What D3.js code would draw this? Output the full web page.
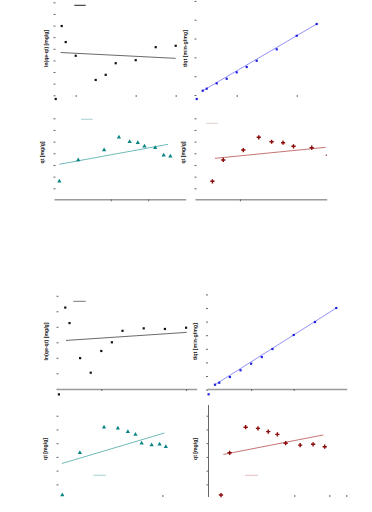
<!DOCTYPE html>
<meta charset="utf-8">
<html>
<head>
<style>
body { margin: 0; background: #fff; }
svg { display: block; }
.lbl { font-family: "Liberation Sans", Arial, sans-serif; font-size: 5.5px; font-weight: bold; fill: #111; }
.tk line { stroke: #666; }
.tk path { display: none; }
.xline path { display: inline; stroke: #9a9a9a; stroke-width: 1.5px; }
</style>
</head>
<body>
<svg width="372" height="512"></svg>
<script src="https://d3js.org/d3.v7.min.js"></script>
<script>

// ---- data ----
// upper group
var tA1 = [6, 10, 20, 40, 50, 60, 80, 100, 120];
var lnA1 = [0.98, 0.29, -0.30, -1.34, -1.12, -0.62, -0.49, 0.07, 0.13];
var tAll = [6, 10, 20, 30, 40, 50, 60, 80, 100, 120];
var tq1 = [0.57, 0.84, 1.55, 2.16, 3.01, 3.72, 4.55, 6.07, 7.87, 9.43];
var lnT = [1.79, 2.30, 3.00, 3.40, 3.69, 3.91, 4.09, 4.38, 4.61, 4.79];
var sqT = [2.45, 3.16, 4.47, 5.48, 6.32, 7.07, 7.75, 8.94, 10.0, 10.95];
var qt1 = [10.60, 12.43, 13.28, 14.37, 13.99, 13.91, 13.60, 13.48, 12.83, 12.74];

// lower group
var lnA2 = [1.12, 0.62, -0.51, -0.98, -0.28, 0.00, 0.37, 0.45, 0.43, 0.47];
var tq2 = [0.72, 1.01, 1.85, 2.84, 3.81, 4.79, 5.97, 8.03, 9.94, 12.0];
var qt2 = [8.11, 9.65, 10.58, 10.54, 10.42, 10.32, 10.00, 9.93, 9.96, 9.87];

// points at t = 0
var zeroA1 = [0, -2.16], zeroB1 = [0, -0.53], zeroA2 = [0, -1.68], zeroB2 = [0, -0.69];

// fitted lines (two end points each)
var fitA1 = [[5, -0.16], [120, -0.41]];
var fitB1 = [[6, 0.57], [120, 9.43]];
var fitC1 = [[1.79, 12.06], [4.73, 13.77]];
var fitD1 = [[2.62, 12.57], [9.85, 13.51]];
var fitA2 = [[6.7, 0.06], [120.6, 0.32]];
var fitB2 = [[6, 0.72], [120, 12.0]];
var fitC2 = [[1.78, 9.26], [4.75, 10.37]];
var fitD2 = [[2.64, 9.59], [10.84, 10.30]];

// axis labels
var labA = "ln(qe-qt) [mg/g]", labB = "t/qt [min·g/mg]", labC = "qt [mg/g]";

var svg = d3.select("svg");
var defs = svg.append("defs");
var nClip = 0;

function zip(a, b) { return a.map(function (v, i) { return [v, b[i]]; }); }

function panel(o) {
  var x = d3.scaleLinear().domain(o.xd).range(o.xr);
  var y = d3.scaleLinear().domain(o.yd).range(o.yr);
  var id = "clip" + (nClip++);
  defs.append("clipPath").attr("id", id).append("rect")
      .attr("x", o.xr[0] - 3).attr("y", o.yr[1] - 2)
      .attr("width", o.xr[1] - o.xr[0] + 3).attr("height", o.yr[0] - o.yr[1] + 12);

  // y ticks
  var ya = svg.append("g").attr("class", "tk")
      .attr("transform", "translate(" + o.yAxisX + ",0)")
      .call(d3.axisLeft(y).tickValues(o.yt).tickSize(2).tickFormat(""));
  if (o.yLine) ya.append("line").attr("x1", 0).attr("x2", 0)
      .attr("y1", o.yr[1]).attr("y2", o.yr[0]).attr("stroke", "#e4e4e4");

  // x axis
  svg.append("g").attr("class", "tk" + (o.xLine ? " xline" : ""))
      .attr("transform", "translate(0," + o.xAxisY + ")")
      .call(d3.axisBottom(x).tickValues(o.xt).tickSize(2).tickSizeOuter(0).tickFormat(""));

  var g = svg.append("g").attr("clip-path", "url(#" + id + ")");

  g.append("path").datum(o.fit)
      .attr("fill", "none").attr("stroke", o.lineCol).attr("stroke-width", 0.8)
      .attr("d", d3.line().x(function (d) { return x(d[0]); }).y(function (d) { return y(d[1]); }));

  var pts = o.pts.slice();
  if (o.zero) pts.push(o.zero);
  if (o.mark === "rect") {
    g.selectAll(".p").data(pts).enter().append("rect")
        .attr("x", function (d) { return x(d[0]) - 1.1; })
        .attr("y", function (d) { return y(d[1]) - 1.1; })
        .attr("width", 2.2).attr("height", 2.2).attr("fill", o.col);
  } else {
    var sym = d3.symbol().type(o.mark === "tri" ? d3.symbolTriangle : d3.symbolCross).size(o.mark === "tri" ? 8 : 10);
    g.selectAll(".p").data(pts).enter().append("path")
        .attr("transform", function (d) { return "translate(" + x(d[0]) + "," + y(d[1]) + ")"; })
        .attr("d", sym).attr("fill", o.col);
  }

  // legend sample (text not legible)
  if (o.leg) svg.append("line")
      .attr("x1", o.leg[0]).attr("x2", o.leg[1]).attr("y1", o.leg[2]).attr("y2", o.leg[2])
      .attr("stroke", o.legCol).attr("stroke-width", 1);

  svg.append("text").attr("class", "lbl")
      .attr("transform", "translate(" + o.lab[0] + "," + o.lab[1] + ") rotate(-90)")
      .attr("text-anchor", "middle").attr("dominant-baseline", "central")
      .attr("textLength", o.lab[2]).attr("lengthAdjust", "spacingAndGlyphs")
      .text(o.text);
}

// upper group
panel({ xd: [0, 130], xr: [55.7, 185.7], yd: [-2.16, 2.1], yr: [99, 0],
  yAxisX: 55.5, yt: d3.range(-2, 2.01, 0.5), xAxisY: 95, xt: [20, 80, 120],
  pts: zip(tA1, lnA1), zero: zeroA1, fit: fitA1, mark: "rect", col: "#111", lineCol: "#444",
  leg: [74.3, 85.7, 5.3], legCol: "#222", lab: [45.5, 48.5, 37], text: labA });

panel({ xd: [0, 130], xr: [196.7, 326.7], yd: [-0.53, 12.62], yr: [99, 0],
  yAxisX: 196.5, yt: [0, 2.5, 5, 7.5, 10, 12.5], xAxisY: 95, xt: [40, 100],
  pts: zip(tAll, tq1), zero: zeroB1, fit: fitB1, mark: "rect", col: "#1f1fe0", lineCol: "#7777f5",
  lab: [184.5, 48.5, 37], text: labB });

panel({ xd: [1.645, 5.205], xr: [54, 185.7], yd: [9.06, 16.71], yr: [199.3, 110],
  yAxisX: 55.5, yt: d3.range(10, 16.01, 1), xAxisY: 199.3, xt: [3.18, 4.19], xLine: true,
  pts: zip(lnT, qt1), fit: fitC1, mark: "tri", col: "#0b8585", lineCol: "#4aa8a8",
  leg: [81, 92.7, 119.3], legCol: "#a6d2d2", lab: [42, 152.5, 22], text: labC });

panel({ xd: [1.312, 9.92], xr: [195, 326.7], yd: [9.06, 16.71], yr: [199.3, 110],
  yAxisX: 196.5, yt: d3.range(10, 16.01, 1), xAxisY: 199.3, xt: [4.25], xLine: true,
  pts: zip(sqT, qt1), fit: fitD1, mark: "cross", col: "#8b0a0a", lineCol: "#b85050",
  leg: [206, 218, 123.3], legCol: "#e6cccc", lab: [183, 152.5, 22], text: labC });

// lower group
panel({ xd: [-2.08, 130], xr: [56.7, 196.7], yd: [-1.506, 1.59], yr: [389, 293],
  yAxisX: 58.5, yt: d3.range(-1.5, 1.51, 0.5), xAxisY: 389, xt: [40, 120], xLine: true,
  pts: zip(tAll, lnA2), zero: zeroA2, fit: fitA2, mark: "rect", col: "#111", lineCol: "#444",
  leg: [73.3, 85.7, 301.3], legCol: "#777", lab: [46, 341.5, 38], text: labA });

panel({ xd: [-1.79, 129.8], xr: [206.7, 346.7], yd: [-0.06, 14.18], yr: [390, 293.2],
  yAxisX: 208, yt: d3.range(0, 14.01, 2), xAxisY: 389, xt: [40, 80], xLine: true,
  pts: zip(tAll, tq2), zero: zeroB2, fit: fitB2, mark: "rect", col: "#1f1fe0", lineCol: "#7777f5",
  lab: [194.7, 341.5, 37], text: labB });

panel({ xd: [1.674, 5.665], xr: [58.3, 196], yd: [8.04, 11.39], yr: [497, 405],
  yAxisX: 58.5, yt: d3.range(8.5, 11.01, 0.5), xAxisY: 495, xt: [4.69],
  pts: zip(lnT, qt2), fit: fitC2, mark: "tri", col: "#0b8585", lineCol: "#4aa8a8",
  leg: [93.3, 105.7, 475.3], legCol: "#a6d2d2", lab: [44.5, 449, 22], text: labC });

panel({ xd: [1.408, 12.72], xr: [208.3, 346.3], yd: [8.04, 11.39], yr: [497, 405],
  yAxisX: 208.5, yt: d3.range(8.5, 11.01, 0.5), xAxisY: 495, xt: [8.46, 11.33, 12.72], yLine: true,
  pts: zip(sqT, qt2), fit: fitD2, mark: "cross", col: "#8b0a0a", lineCol: "#b85050",
  leg: [245, 258, 475.3], legCol: "#e0c0c0", lab: [194.5, 449, 22], text: labC });

</script>
</body>
</html>
